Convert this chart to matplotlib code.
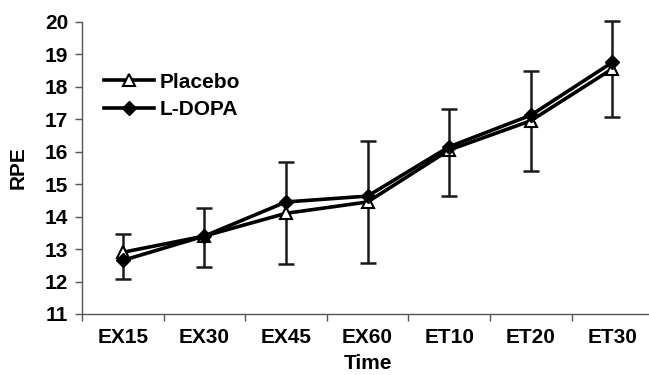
import matplotlib
matplotlib.use("Agg")
import matplotlib.pyplot as plt
import numpy as np

# Data
TIMES = ["EX15", "EX30", "EX45", "EX60", "ET10", "ET20", "ET30"]
PLACEBO = [12.9, 13.4, 14.1, 14.45, 16.05, 16.95, 18.55]
LDOPA = [12.65, 13.4, 14.45, 14.63, 16.15, 17.12, 18.75]
# error bar ends (drawn on the placebo series)
ERR_LOW = [12.07, 12.46, 12.53, 12.57, 14.62, 15.41, 17.06]
ERR_HIGH = [13.47, 14.27, 15.69, 16.34, 17.31, 18.49, 20.03]
Y_TICKS = [11, 12, 13, 14, 15, 16, 17, 18, 19, 20]

plt.rcParams["font.family"] = ["Liberation Sans", "DejaVu Sans"]
plt.rcParams["font.weight"] = "bold"

fig = plt.figure(figsize=(6.49, 3.75), dpi=100)
ax = fig.add_axes([0.1264, 0.1627, 0.88, 0.7794])

x = np.arange(len(TIMES))
plac = np.array(PLACEBO)
yerr = [plac - np.array(ERR_LOW), np.array(ERR_HIGH) - plac]

eb = ax.errorbar(x, plac, yerr=yerr, fmt="none", ecolor="#1a1a1a",
                 elinewidth=1.8, capsize=6, capthick=1.8, zorder=1)
for art in eb.lines[1] + eb.lines[2]:
    art.set_clip_on(False)
ax.plot(x, PLACEBO, color="black", linewidth=2.6, marker="^",
        markersize=9, markerfacecolor="white", markeredgecolor="black",
        markeredgewidth=1.5, label="Placebo", zorder=2, clip_on=False)
ax.plot(x, LDOPA, color="black", linewidth=2.6, marker="D",
        markersize=7, markerfacecolor="black", markeredgecolor="black",
        label="L-DOPA", zorder=3, clip_on=False)

ax.set_xlim(-0.5, len(TIMES) - 0.5)
ax.set_ylim(11, 20)
ax.set_yticks(Y_TICKS)
ax.set_xticks(x)
ax.set_xticklabels(TIMES)
ax.set_xticks(np.arange(len(TIMES) + 1) - 0.5, minor=True)
ax.tick_params(axis="x", which="major", length=0, pad=10, labelsize=15)
ax.tick_params(axis="x", which="minor", length=5, width=1, color="#555555",
               direction="out")
ax.tick_params(axis="y", length=5, width=1, color="#555555", pad=5,
               labelsize=15)

for side in ["top", "right"]:
    ax.spines[side].set_visible(False)
for side in ["left", "bottom"]:
    ax.spines[side].set_color("#555555")
    ax.spines[side].set_linewidth(1)

ax.set_xlabel("Time", fontsize=15, fontweight="bold", labelpad=5)
ax.set_ylabel("RPE", fontsize=15, fontweight="bold", labelpad=12)

leg = ax.legend(loc="upper left", bbox_to_anchor=(0.005, 0.89), frameon=False,
                fontsize=15, handlelength=2.4, handletextpad=0.3,
                labelspacing=0.4)

fig.savefig("out.png", dpi=100)
